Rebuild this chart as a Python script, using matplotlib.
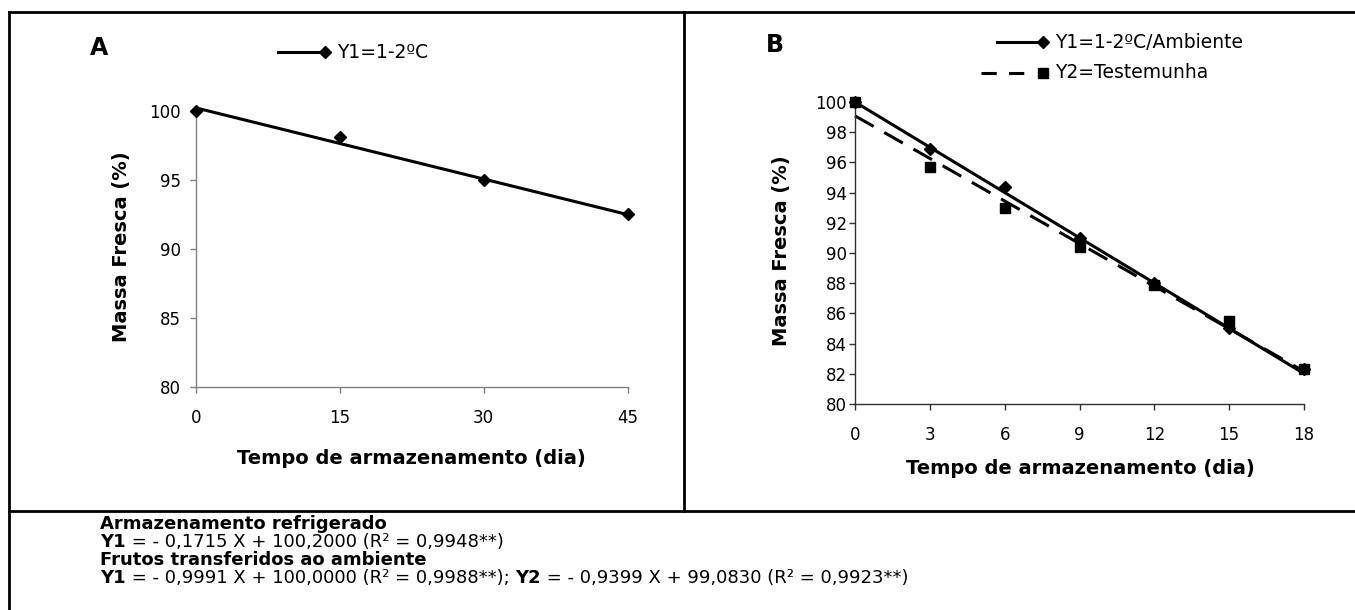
import matplotlib
matplotlib.use("Agg")
import matplotlib.pyplot as plt
from matplotlib.lines import Line2D
import numpy as np

plt.rcParams['font.family'] = ['DejaVu Sans']

# painel A - armazenamento refrigerado
dias_a = [0, 15, 30, 45]
massa_a = [100.0, 98.1, 95.0, 92.5]
coef_a = (-0.1715, 100.2000)

# painel B - frutos transferidos ao ambiente
dias_b = [0, 3, 6, 9, 12, 15, 18]
massa_b1 = [100.0, 96.9, 94.4, 91.0, 88.0, 85.0, 82.3]
massa_b2 = [100.0, 95.7, 93.0, 90.4, 87.9, 85.5, 82.3]
coef_b1 = (-0.9991, 100.0000)
coef_b2 = (-0.9399, 99.0830)

W, H = 1355, 610
fig = plt.figure(figsize=(W / 100, H / 100), dpi=100)


# helpers: pixel position -> figure fraction
def fx(x):
    return x / W


def fy(y):
    return 1 - y / H


def add_ax(x0, x1, ytop, ybot):
    return fig.add_axes([fx(x0), fy(ybot), fx(x1) - fx(x0), fy(ytop) - fy(ybot)])


def style(ax, col, xpad, ypad):
    for s in ['top', 'right']:
        ax.spines[s].set_visible(False)
    for s in ['left', 'bottom']:
        ax.spines[s].set_color(col)
        ax.spines[s].set_linewidth(1.0)
    ax.tick_params(direction='out', length=4, width=1.0, color=col, labelsize=12)
    ax.tick_params(axis='x', pad=xpad)
    ax.tick_params(axis='y', pad=ypad)


LW = 2.2

# ---- A ----
axA = add_ax(196, 627.5, 110.7, 387)
xs = np.array([dias_a[0], dias_a[-1]])
axA.plot(xs, coef_a[0] * xs + coef_a[1], color='black', lw=LW, clip_on=False)
axA.plot(dias_a, massa_a, 'D', color='black', ms=6.5, clip_on=False, zorder=3)
axA.set_xlim(0, 45)
axA.set_ylim(80, 100)
axA.set_xticks(dias_a)
axA.set_yticks([80, 85, 90, 95, 100])
style(axA, '#808080', 12, 7)

# ---- B ----
axB = add_ax(855, 1304, 102, 404)
xs = np.array([dias_b[0], dias_b[-1]])
axB.plot(xs, coef_b1[0] * xs + coef_b1[1], color='black', lw=LW, clip_on=False)
axB.plot(xs, coef_b2[0] * xs + coef_b2[1], color='black', lw=LW, dashes=(7, 4), clip_on=False)
axB.plot(dias_b, massa_b1, 'D', color='black', ms=6.5, clip_on=False, zorder=3)
axB.plot(dias_b, massa_b2, 's', color='black', ms=7.5, clip_on=False, zorder=3)
axB.set_xlim(0, 18)
axB.set_ylim(80, 100)
axB.set_xticks(dias_b)
axB.set_yticks(range(80, 101, 2))
style(axB, '#303030', 12, 2)

# axis labels
lab = dict(fontsize=14, fontweight='bold', ha='center', va='center')
fig.text(fx(411), fy(458), 'Tempo de armazenamento (dia)', **lab)
fig.text(fx(1080), fy(468), 'Tempo de armazenamento (dia)', **lab)
fig.text(fx(122), fy(247), 'Massa Fresca (%)', rotation=90, **lab)
fig.text(fx(781), fy(251), 'Massa Fresca (%)', rotation=90, **lab)

# panel letters
fig.text(fx(99), fy(48), 'A', fontsize=17, fontweight='bold', ha='center', va='center')
fig.text(fx(775), fy(45), 'B', fontsize=17, fontweight='bold', ha='center', va='center')


# legends: line with the marker at its right end, as in the original
def leg(x0, x1, xm, y, mk, ms, txt, dashes=None):
    kw = dict(color='black', lw=LW, transform=fig.transFigure)
    if dashes:
        kw['dashes'] = dashes
    fig.add_artist(Line2D([fx(x0), fx(x1)], [fy(y), fy(y)], **kw))
    fig.add_artist(Line2D([fx(xm)], [fy(y)], marker=mk, ms=ms, color='black',
                          lw=0, transform=fig.transFigure))
    fig.text(fx(xm + 12), fy(y), txt, fontsize=13.5, ha='left', va='center')


leg(278, 320, 325, 52, 'D', 6.5, 'Y1=1-2ºC')
leg(997, 1040, 1043, 42, 'D', 6.5, 'Y1=1-2ºC/Ambiente')
leg(981, 1026, 1043, 73, 's', 7, 'Y2=Testemunha', dashes=(5, 4))

# frame lines
frame = dict(color='black', lw=2, transform=fig.transFigure)
fig.add_artist(Line2D([fx(9), fx(9)], [fy(12), 0], **frame))
fig.add_artist(Line2D([fx(9), 1], [fy(12), fy(12)], **frame))
fig.add_artist(Line2D([fx(684), fx(684)], [fy(12), fy(511)], **frame))
fig.add_artist(Line2D([fx(9), 1], [fy(511), fy(511)], **frame))

# equations under the panels
TX = 100
FS = 13
fig.canvas.draw()
rend = fig.canvas.get_renderer()


def chain(y, parts):
    # write the pieces one after another, bold or normal
    x = fx(TX)
    for txt, bold in parts:
        t = fig.text(x, fy(y), txt, fontsize=FS, fontweight='bold' if bold else 'normal',
                     va='center', ha='left')
        x = t.get_window_extent(renderer=rend).x1 / W


chain(524, [('Armazenamento refrigerado', True)])
chain(542, [('Y1', True), (' = - 0,1715 X + 100,2000 (R² = 0,9948**)', False)])
chain(560, [('Frutos transferidos ao ambiente', True)])
chain(578, [('Y1', True), (' = - 0,9991 X + 100,0000 (R² = 0,9988**); ', False),
            ('Y2', True), (' = - 0,9399 X + 99,0830 (R² = 0,9923**)', False)])

fig.savefig('out.png', dpi=100)
